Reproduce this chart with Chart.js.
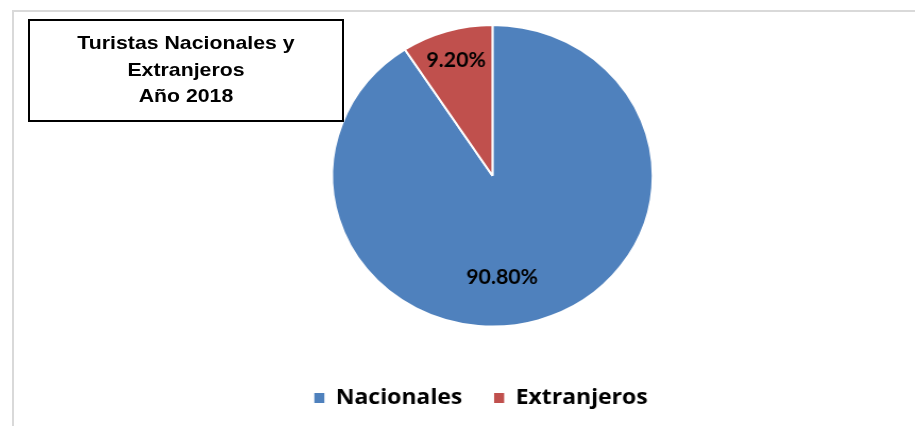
<!DOCTYPE html>
<html>
<head>
<meta charset="utf-8">
<script src="https://cdn.jsdelivr.net/npm/chart.js@4"></script>
<style>
  html, body { margin: 0; padding: 0; background: #fff; }
  #wrap { position: relative; width: 915px; height: 426px; overflow: hidden; }
  #frame {
    position: absolute; left: 12px; top: 10px; right: -4px; bottom: -4px;
    border-top: 2px solid #d9d9d9; border-left: 2px solid #d9d9d9;
  }
  #chart { position: absolute; left: 0; top: 0; }
  #titleBox {
    position: absolute; left: 28px; top: 19px; width: 316px; height: 103px;
    box-sizing: border-box; border: 2px solid #000;
  }
  #titleText {
    position: absolute; left: 28px; top: 30px; width: 316px; text-align: center;
    font: bold 19px "Liberation Sans", Arial, sans-serif; line-height: 26.7px; color: #000;
  }
  #titleText span { display: inline-block; transform: scaleX(1.12); }
</style>
</head>
<body>
<div id="wrap">
  <div id="frame"></div>
  <!-- the reference is stretched a bit sideways, so the canvas is drawn narrower and scaled up -->
  <canvas id="chart" width="861" height="426" style="width: 915px; height: 426px;"></canvas>
  <div id="titleBox"></div>
  <div id="titleText"><span>Turistas Nacionales y<br>Extranjeros<br>Año 2018</span></div>
</div>
<script>
const categories = ["Nacionales", "Extranjeros"];
const shares = [90.8, 9.2];
const sliceColors = ["#4F81BD", "#C0504D"];

// where each percentage sits: share of the radius and a small turn off the slice middle
const labelSpots = [
  { r: 0.676, turn: 0.2 },
  { r: 0.795, turn: 0 },
];

const sliceLabels = {
  id: "sliceLabels",
  afterDatasetsDraw(chart) {
    const { ctx } = chart;
    const meta = chart.getDatasetMeta(0);
    ctx.save();
    ctx.font = "bold 20px Lato, sans-serif";
    ctx.fillStyle = "#000";
    ctx.textAlign = "center";
    ctx.textBaseline = "middle";
    meta.data.forEach((arc, i) => {
      const { x, y, startAngle, endAngle, outerRadius } = arc.getProps(
        ["x", "y", "startAngle", "endAngle", "outerRadius"],
        true
      );
      const spot = labelSpots[i];
      const a = (startAngle + endAngle) / 2 + spot.turn;
      const px = x + Math.cos(a) * outerRadius * spot.r;
      const py = y + Math.sin(a) * outerRadius * spot.r;
      ctx.fillText(shares[i].toFixed(2) + "%", px, py);
    });
    ctx.restore();
  },
};

const ctx = document.getElementById("chart").getContext("2d");
new Chart(ctx, {
  type: "pie",
  data: {
    labels: categories,
    datasets: [
      {
        data: shares,
        backgroundColor: sliceColors,
        borderColor: "#fff",
        borderWidth: 2,
      },
    ],
  },
  options: {
    responsive: false,
    animation: false,
    devicePixelRatio: 1,
    layout: {
      padding: { left: 265.8, right: 200, top: 24, bottom: 7.3 },
    },
    plugins: {
      tooltip: { enabled: false },
      legend: {
        position: "bottom",
        align: "start",
        title: {
          display: true,
          text: "",
          font: { size: 12, lineHeight: 1 },
          padding: { top: 17.5, bottom: 0 },
        },
        labels: {
          boxWidth: 9.4,
          boxHeight: 10,
          padding: 30,
          color: "#000",
          font: { family: "'Open Sans', sans-serif", size: 21.6, weight: "bold" },
          generateLabels: (chart) =>
            Chart.overrides.doughnut.plugins.legend.labels
              .generateLabels(chart)
              .map((item) => ({ ...item, lineWidth: 0 })),
        },
      },
    },
  },
  plugins: [sliceLabels],
});
</script>
</body>
</html>
